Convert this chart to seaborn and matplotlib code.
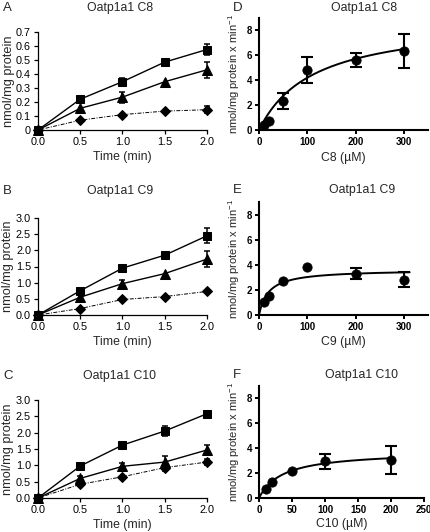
import numpy as np
import pandas as pd
import matplotlib
matplotlib.use("Agg")
import matplotlib.pyplot as plt
import seaborn as sns

# ---- time course data (left column) ----
time = [0.0, 0.5, 1.0, 1.5, 2.0]

c8_sq = [0.0, 0.22, 0.345, 0.485, 0.575]
c8_sq_err = [0, 0, 0.03, 0, 0.04]
c8_tri = [0.0, 0.155, 0.235, 0.345, 0.43]
c8_tri_err = [0, 0, 0.04, 0, 0.055]
c8_dia = [0.0, 0.07, 0.11, 0.135, 0.145]
c8_dia_err = [0, 0, 0, 0, 0.025]

c9_sq = [0.0, 0.75, 1.45, 1.85, 2.45]
c9_sq_err = [0, 0.08, 0, 0, 0.23]
c9_tri = [0.0, 0.55, 0.97, 1.28, 1.73]
c9_tri_err = [0, 0, 0.12, 0, 0.24]
c9_dia = [0.0, 0.2, 0.48, 0.57, 0.73]
c9_dia_err = [0, 0, 0, 0, 0]

c10_sq = [0.0, 0.98, 1.62, 2.05, 2.58]
c10_sq_err = [0, 0, 0, 0.15, 0]
c10_tri = [0.0, 0.6, 0.97, 1.1, 1.47]
c10_tri_err = [0, 0.08, 0.1, 0.2, 0.15]
c10_dia = [0.0, 0.42, 0.65, 0.93, 1.1]
c10_dia_err = [0, 0.06, 0, 0.1, 0.1]

# ---- concentration dependence (right column) ----
conc_c8 = [10, 20, 50, 100, 200, 300]
rate_c8 = [0.4, 0.75, 2.35, 4.85, 5.6, 6.35]
rate_c8_err = [0, 0, 0.65, 1.05, 0.55, 1.4]
vmax_c8, km_c8 = 8.95, 113.0

conc_c9 = [10, 20, 50, 100, 200, 300]
rate_c9 = [1.05, 1.5, 2.7, 3.8, 3.3, 2.8]
rate_c9_err = [0, 0, 0, 0, 0.45, 0.6]
vmax_c9, km_c9 = 3.62, 19.7

conc_c10 = [10, 20, 50, 100, 200]
rate_c10 = [0.7, 1.3, 2.2, 2.95, 3.05]
rate_c10_err = [0, 0, 0, 0.6, 1.15]
vmax_c10, km_c10 = 3.77, 35.7

sns.set_style("ticks")
plt.rcParams['font.family'] = ['Liberation Sans', 'DejaVu Sans']
plt.rcParams['mathtext.fontset'] = 'custom'
plt.rcParams['mathtext.rm'] = 'Liberation Sans'

W, H = 431, 532
fig = plt.figure(figsize=(W / 100, H / 100), dpi=100)


def box(x0, x1, ytop, ybot):
    return [x0 / W, 1 - ybot / H, (x1 - x0) / W, (ybot - ytop) / H]


def time_panel(rect, series, ymax, ystep, yfmt):
    ax = fig.add_axes(rect)
    for y, err, marker, ls, lw, ms in series:
        df = pd.DataFrame({"t": time, "v": y})
        sns.lineplot(data=df, x="t", y="v", ax=ax, color="black", lw=lw,
                     linestyle=ls, marker=marker, markersize=ms,
                     markeredgecolor="black", clip_on=False, zorder=3)
        e = np.array(err)
        m = e > 0
        if m.any():
            ax.errorbar(np.array(time)[m], np.array(y)[m], yerr=e[m], fmt="none",
                        ecolor="black", elinewidth=1.1, capsize=2.5, capthick=1.1,
                        clip_on=False, zorder=4)
    ax.set_xlim(0, 2.0)
    ax.set_ylim(0, ymax)
    ax.set_xticks([0.0, 0.5, 1.0, 1.5, 2.0])
    ax.set_xticklabels(["0.0", "0.5", "1.0", "1.5", "2.0"])
    yt = np.round(np.arange(0, ymax + 1e-9, ystep), 2)
    ax.set_yticks(yt)
    ax.set_yticklabels([yfmt(v) for v in yt])
    ax.tick_params(labelsize=7.8, length=3, width=0.9, pad=2, colors="black")
    for s in ("top", "right"):
        ax.spines[s].set_visible(False)
    for s in ("left", "bottom"):
        ax.spines[s].set_linewidth(0.9)
        ax.spines[s].set_color("black")
    ax.set_xlabel("Time (min)", fontsize=8.8, labelpad=3)
    ax.set_ylabel("nmol/mg protein", fontsize=9.2, labelpad=1)
    return ax


def conc_panel(rect, conc, rate, err, vmax, km, xmax, xticks, xend):
    ax = fig.add_axes(rect)
    xs = np.linspace(0, xend, 200)
    fit = pd.DataFrame({"s": xs, "v": vmax * xs / (km + xs)})
    sns.lineplot(data=fit, x="s", y="v", ax=ax, color="black", lw=1.4, zorder=2)
    pts = pd.DataFrame({"s": conc, "v": rate})
    sns.scatterplot(data=pts, x="s", y="v", ax=ax, color="black", s=45,
                    edgecolor="black", clip_on=False, zorder=3)
    e = np.array(err)
    m = e > 0
    ax.errorbar(np.array(conc)[m], np.array(rate)[m], yerr=e[m], fmt="none",
                ecolor="black", elinewidth=1.5, capsize=4, capthick=1.5,
                clip_on=False, zorder=4)
    ax.set_xlim(0, xmax)
    ax.set_ylim(0, 9)
    ax.set_xticks(xticks)
    ax.set_yticks([0, 2, 4, 6, 8])
    ax.tick_params(labelsize=7, length=3, width=1.4, pad=2, colors="black")
    for lab in ax.get_xticklabels() + ax.get_yticklabels():
        lab.set_fontweight("bold")
    for s in ("top", "right"):
        ax.spines[s].set_visible(False)
    for s in ("left", "bottom"):
        ax.spines[s].set_linewidth(1.5)
        ax.spines[s].set_color("black")
    ax.set_ylabel(r"nmol/mg protein x min$^{-1}$", fontsize=8, labelpad=3)
    return ax


def fmt_a(v):
    return "0" if v == 0 else f"{v:.1f}"


def fmt_bc(v):
    return f"{v:.1f}"


sq = ("s", "-", 1.0, 6)
tri = ("^", "-", 1.0, 6.5)
dia = ("D", (0, (4, 1.5, 1, 1.5)), 0.7, 5)

ax_a = time_panel(box(38, 207, 32, 130),
                  [(c8_sq, c8_sq_err) + sq, (c8_tri, c8_tri_err) + tri,
                   (c8_dia, c8_dia_err) + dia], 0.7, 0.1, fmt_a)
ax_b = time_panel(box(38, 207, 218, 315),
                  [(c9_sq, c9_sq_err) + sq, (c9_tri, c9_tri_err) + tri,
                   (c9_dia, c9_dia_err) + dia], 3.0, 0.5, fmt_bc)
ax_c = time_panel(box(38, 207, 400, 498),
                  [(c10_sq, c10_sq_err) + sq, (c10_tri, c10_tri_err) + tri,
                   (c10_dia, c10_dia_err) + dia], 3.0, 0.5, fmt_bc)

ax_d = conc_panel(box(259, 428, 18, 130), conc_c8, rate_c8, rate_c8_err,
                  vmax_c8, km_c8, 350, [0, 100, 200, 300], 300)
ax_d.set_xlabel("C8 (µM)", fontsize=8.8, labelpad=4)
ax_e = conc_panel(box(259, 428, 202, 315), conc_c9, rate_c9, rate_c9_err,
                  vmax_c9, km_c9, 350, [0, 100, 200, 300], 312)
ax_e.set_xlabel("C9 (µM)", fontsize=8.8, labelpad=3)
ax_f = conc_panel(box(259, 424, 386, 498), conc_c10, rate_c10, rate_c10_err,
                  vmax_c10, km_c10, 250, [0, 50, 100, 150, 200, 250], 200)
ax_f.set_xlabel("C10 (µM)", fontsize=8.8, labelpad=2)

# titles and panel letters
for letter, title, x_letter, x_title, y in [
        ("A", "Oatp1a1 C8", 3, 120, 8), ("D", "Oatp1a1 C8", 233, 364, 8),
        ("B", "Oatp1a1 C9", 3, 120, 191), ("E", "Oatp1a1 C9", 233, 362, 190),
        ("C", "Oatp1a1 C10", 3, 120, 376), ("F", "Oatp1a1 C10", 233, 362, 375)]:
    fig.text(x_letter / W, 1 - y / H, letter, fontsize=9.5, ha="left", va="center")
    fig.text(x_title / W, 1 - y / H, title, fontsize=8.8, ha="center", va="center")

fig.savefig("out.png", dpi=100)
